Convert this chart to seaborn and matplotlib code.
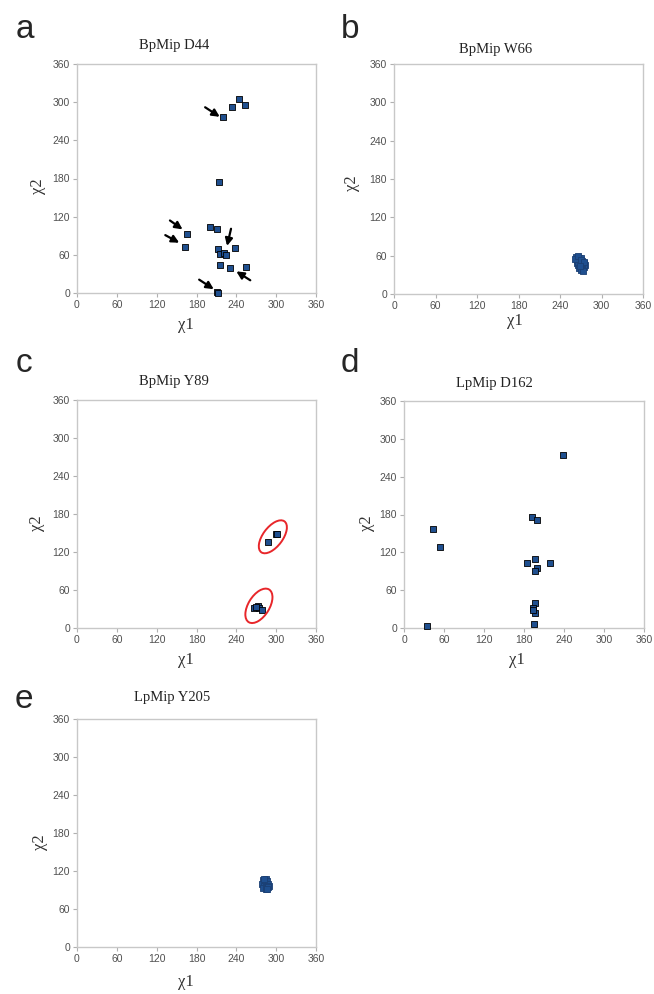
import matplotlib
matplotlib.use("Agg")
import matplotlib.pyplot as plt
from matplotlib.patches import Ellipse
import numpy as np
import pandas as pd
import seaborn as sns

# chi1 / chi2 side chain angles
a_chi1 = [244, 234, 253, 220, 214, 200, 211, 166, 162, 212, 215, 222, 224, 238, 215, 231, 255, 211, 213]
a_chi2 = [305, 292, 296, 276, 175, 104, 100, 93, 72, 69, 62, 63, 59, 70, 44, 39, 41, 2, 0]

b_chi1 = [263, 267, 271, 264, 268, 272, 275, 265, 269, 273, 276, 266, 270, 274, 268, 272, 270, 273, 262, 266, 271, 275, 269]
b_chi2 = [58, 57, 56, 53, 52, 51, 49, 49, 47, 46, 45, 45, 43, 42, 41, 39, 37, 36, 55, 60, 54, 50, 44]

c_chi1 = [288, 299, 302, 267, 272, 274, 279, 270]
c_chi2 = [136, 149, 149, 31, 35, 32, 28, 33]

d_chi1 = [238, 44, 54, 34, 192, 199, 185, 196, 199, 197, 219, 197, 193, 196, 195, 194]
d_chi2 = [275, 157, 128, 3, 176, 171, 103, 109, 95, 90, 103, 40, 31, 23, 7, 29]

e_chi1 = [280, 284, 282, 286, 279, 283, 287, 281, 285, 289, 280, 284, 288, 282, 286]
e_chi2 = [106, 107, 103, 104, 100, 99, 100, 96, 95, 96, 93, 92, 94, 108, 91]

# arrows in panel a: (tail, head)
a_arrows = [((193, 292), (215, 277)), ((140, 114), (159, 100)), ((133, 91), (154, 79)),
            ((232, 101), (226, 74)), ((261, 20), (240, 34)), ((184, 21), (206, 6))]
# red rings in panel c: (centre, width, height, angle)
c_rings = [((295, 144), 60, 30, 55), ((274, 35), 60, 32, 60)]

ticks = [0, 60, 120, 180, 240, 300, 360]

sns.set_style("white")
plt.rcParams['font.family'] = ['Liberation Sans', 'DejaVu Sans']

fig = plt.figure(figsize=(6.54, 9.94), dpi=100)
W, H = 654, 994

panels = [
    # letter, title, x, y, axes box (l, t, r, b) in px, letter pos, title pos, xlabel pos, ylabel pos
    ("a", "BpMip D44", a_chi1, a_chi2, (77, 64, 316, 293), (25, 29), (174, 46), (186, 325), (38, 186)),
    ("b", "BpMip W66", b_chi1, b_chi2, (394, 64, 643, 294), (350, 29), (496, 50), (515, 321), (352, 183)),
    ("c", "BpMip Y89", c_chi1, c_chi2, (77, 400, 316, 628), (24, 363), (174, 381), (186, 660), (37, 523)),
    ("d", "LpMip D162", d_chi1, d_chi2, (404, 401, 644, 628), (350, 363), (494, 384), (517, 660), (367, 523)),
    ("e", "LpMip Y205", e_chi1, e_chi2, (77, 719, 316, 947), (24, 700), (172, 698), (186, 982), (40, 842)),
]

axes = {}
for letter, title, xs, ys, box, lpos, tpos, xlpos, ylpos in panels:
    l, t, r, b = box
    ax = fig.add_axes([l / W, 1 - b / H, (r - l) / W, (b - t) / H])
    df = pd.DataFrame({"chi1": xs, "chi2": ys})
    ec = "black" if letter in ("a", "c", "d") else "#1b3f73"
    sns.scatterplot(data=df, x="chi1", y="chi2", marker="s", s=24, color="#1f4f8f",
                    edgecolor=ec, linewidth=0.6, ax=ax, zorder=3, clip_on=False)
    ax.set_xlim(0, 360)
    ax.set_ylim(0, 360)
    ax.set_xticks(ticks)
    ax.set_yticks(ticks)
    ax.set_xlabel("")
    ax.set_ylabel("")
    for sp in ax.spines.values():
        sp.set_color("#c8c8c8")
        sp.set_linewidth(1.0)
    ax.tick_params(axis="both", direction="out", length=3, width=0.8, color="#b0b0b0",
                   labelsize=7.5, labelcolor="#505050", pad=2, left=True, bottom=True)
    fig.text(lpos[0] / W, 1 - lpos[1] / H, letter, fontsize=24, ha="center", va="center")
    fig.text(tpos[0] / W, 1 - tpos[1] / H, title, fontsize=10.5, ha="center", va="center",
             family=["Liberation Serif", "DejaVu Serif"], color="#222222")
    fig.text(xlpos[0] / W, 1 - xlpos[1] / H, "χ1", fontsize=12, ha="center", va="center",
             family=["Liberation Serif", "DejaVu Serif"], color="#333333")
    fig.text(ylpos[0] / W, 1 - ylpos[1] / H, "χ2", fontsize=12, ha="center", va="center",
             rotation=90, family=["Liberation Serif", "DejaVu Serif"], color="#333333")
    axes[letter] = ax

for tail, head in a_arrows:
    axes["a"].annotate("", xy=head, xytext=tail,
                       arrowprops=dict(arrowstyle="-|>", color="black", lw=1.6, mutation_scale=11,
                                       shrinkA=0, shrinkB=0), zorder=4)

for centre, w, h, ang in c_rings:
    axes["c"].add_patch(Ellipse(centre, w, h, angle=ang, fill=False, edgecolor="#e8262a",
                                linewidth=1.4, zorder=4))

fig.savefig("out.png", dpi=100)
